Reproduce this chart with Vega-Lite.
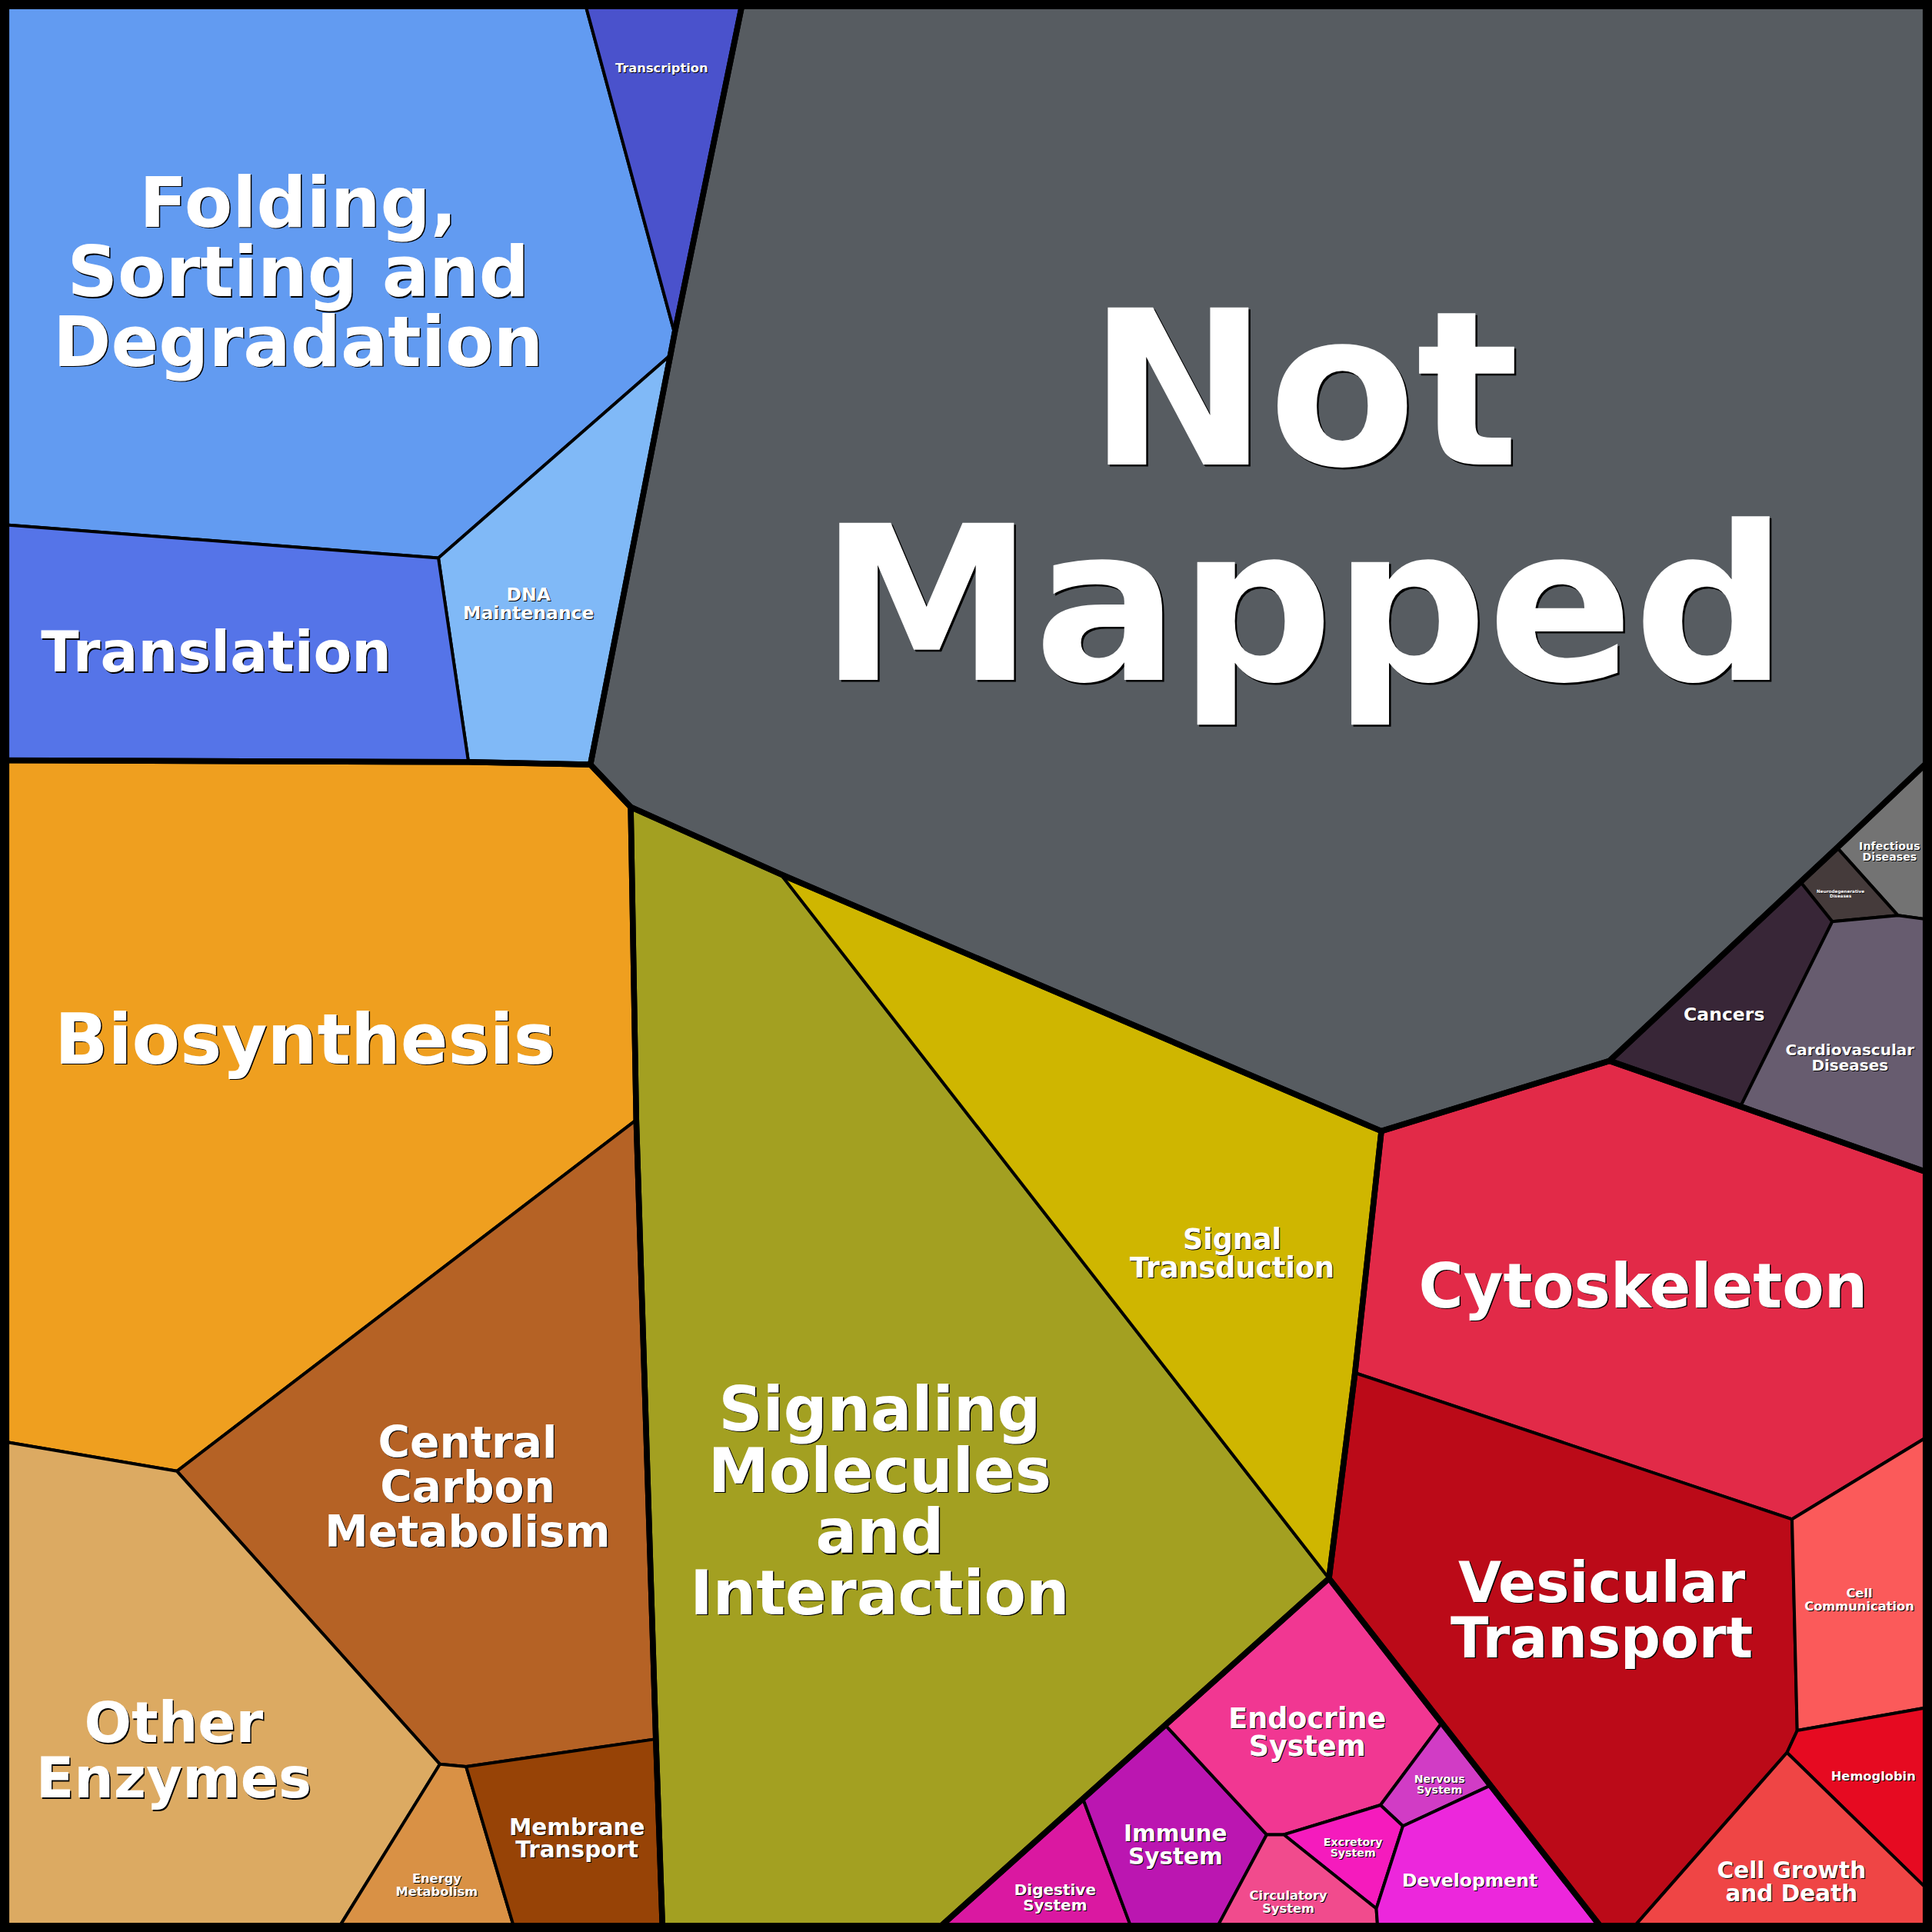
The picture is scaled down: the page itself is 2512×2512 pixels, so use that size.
{
  "$schema": "https://vega.github.io/schema/vega-lite/v6.json",
  "width": 2512,
  "height": 2512,
  "autosize": {"type": "fit", "contains": "padding"},
  "padding": 0,
  "background": "#000000",
  "config": {
    "view": {"stroke": null},
    "text": {"font": "DejaVu Sans", "fontWeight": "bold", "align": "center", "baseline": "alphabetic", "lineBreak": "\n"}
  },
  "datasets": {
    "cells": [
      {"c": "Folding, Sorting and Degradation", "i": 0, "x": 5.2, "y": 5.2},
      {"c": "Folding, Sorting and Degradation", "i": 1, "x": 475.5, "y": 5.2},
      {"c": "Folding, Sorting and Degradation", "i": 2, "x": 547.5, "y": 270.4},
      {"c": "Folding, Sorting and Degradation", "i": 3, "x": 544.1, "y": 288.2},
      {"c": "Folding, Sorting and Degradation", "i": 4, "x": 355.8, "y": 452.9},
      {"c": "Folding, Sorting and Degradation", "i": 5, "x": 5.2, "y": 426},

      {"c": "Transcription", "i": 0, "x": 475.5, "y": 5.2},
      {"c": "Transcription", "i": 1, "x": 602, "y": 5.2},
      {"c": "Transcription", "i": 2, "x": 547.5, "y": 270.4},

      {"c": "DNA Maintenance", "i": 0, "x": 544.1, "y": 288.2},
      {"c": "DNA Maintenance", "i": 1, "x": 479.2, "y": 620.5},
      {"c": "DNA Maintenance", "i": 2, "x": 380.2, "y": 618.5},
      {"c": "DNA Maintenance", "i": 3, "x": 355.8, "y": 452.9},

      {"c": "Translation", "i": 0, "x": 5.2, "y": 426},
      {"c": "Translation", "i": 1, "x": 355.8, "y": 452.9},
      {"c": "Translation", "i": 2, "x": 380.2, "y": 618.5},
      {"c": "Translation", "i": 3, "x": 5.2, "y": 617},

      {"c": "Not Mapped", "i": 0, "x": 602, "y": 5.2},
      {"c": "Not Mapped", "i": 1, "x": 1562.8, "y": 5.2},
      {"c": "Not Mapped", "i": 2, "x": 1562.8, "y": 620},
      {"c": "Not Mapped", "i": 3, "x": 1491, "y": 688},
      {"c": "Not Mapped", "i": 4, "x": 1461.3, "y": 715.8},
      {"c": "Not Mapped", "i": 5, "x": 1306.3, "y": 861},
      {"c": "Not Mapped", "i": 6, "x": 1121.1, "y": 918},
      {"c": "Not Mapped", "i": 7, "x": 633.6, "y": 709.5},
      {"c": "Not Mapped", "i": 8, "x": 511.9, "y": 655},
      {"c": "Not Mapped", "i": 9, "x": 479.2, "y": 620.5},
      {"c": "Not Mapped", "i": 10, "x": 544.1, "y": 288.2},
      {"c": "Not Mapped", "i": 11, "x": 547.5, "y": 270.4},

      {"c": "Infectious Diseases", "i": 0, "x": 1562.8, "y": 620},
      {"c": "Infectious Diseases", "i": 1, "x": 1562.8, "y": 746},
      {"c": "Infectious Diseases", "i": 2, "x": 1540.4, "y": 743},
      {"c": "Infectious Diseases", "i": 3, "x": 1491, "y": 688},

      {"c": "Neurodegenerative Diseases", "i": 0, "x": 1491, "y": 688},
      {"c": "Neurodegenerative Diseases", "i": 1, "x": 1540.4, "y": 743},
      {"c": "Neurodegenerative Diseases", "i": 2, "x": 1487, "y": 748},
      {"c": "Neurodegenerative Diseases", "i": 3, "x": 1461.3, "y": 715.8},

      {"c": "Cancers", "i": 0, "x": 1461.3, "y": 715.8},
      {"c": "Cancers", "i": 1, "x": 1487, "y": 748},
      {"c": "Cancers", "i": 2, "x": 1412.6, "y": 898},
      {"c": "Cancers", "i": 3, "x": 1306.3, "y": 861},

      {"c": "Cardiovascular Diseases", "i": 0, "x": 1487, "y": 748},
      {"c": "Cardiovascular Diseases", "i": 1, "x": 1540.4, "y": 743},
      {"c": "Cardiovascular Diseases", "i": 2, "x": 1562.8, "y": 746},
      {"c": "Cardiovascular Diseases", "i": 3, "x": 1562.8, "y": 951},
      {"c": "Cardiovascular Diseases", "i": 4, "x": 1412.6, "y": 898},

      {"c": "Cytoskeleton", "i": 0, "x": 1121.1, "y": 918},
      {"c": "Cytoskeleton", "i": 1, "x": 1306.3, "y": 861},
      {"c": "Cytoskeleton", "i": 2, "x": 1412.6, "y": 898},
      {"c": "Cytoskeleton", "i": 3, "x": 1562.8, "y": 951},
      {"c": "Cytoskeleton", "i": 4, "x": 1562.8, "y": 1167},
      {"c": "Cytoskeleton", "i": 5, "x": 1454.4, "y": 1233},
      {"c": "Cytoskeleton", "i": 6, "x": 1099.7, "y": 1114.2},

      {"c": "Vesicular Transport", "i": 0, "x": 1099.7, "y": 1114.2},
      {"c": "Vesicular Transport", "i": 1, "x": 1454.4, "y": 1233},
      {"c": "Vesicular Transport", "i": 2, "x": 1458.6, "y": 1404.5},
      {"c": "Vesicular Transport", "i": 3, "x": 1450.3, "y": 1422.4},
      {"c": "Vesicular Transport", "i": 4, "x": 1327, "y": 1562.8},
      {"c": "Vesicular Transport", "i": 5, "x": 1298.4, "y": 1562.8},
      {"c": "Vesicular Transport", "i": 6, "x": 1078.6, "y": 1281},

      {"c": "Cell Communication", "i": 0, "x": 1454.4, "y": 1233},
      {"c": "Cell Communication", "i": 1, "x": 1562.8, "y": 1167},
      {"c": "Cell Communication", "i": 2, "x": 1562.8, "y": 1386},
      {"c": "Cell Communication", "i": 3, "x": 1458.6, "y": 1404.5},

      {"c": "Hemoglobin", "i": 0, "x": 1458.6, "y": 1404.5},
      {"c": "Hemoglobin", "i": 1, "x": 1562.8, "y": 1386},
      {"c": "Hemoglobin", "i": 2, "x": 1562.8, "y": 1532},
      {"c": "Hemoglobin", "i": 3, "x": 1450.3, "y": 1422.4},

      {"c": "Cell Growth and Death", "i": 0, "x": 1450.3, "y": 1422.4},
      {"c": "Cell Growth and Death", "i": 1, "x": 1562.8, "y": 1532},
      {"c": "Cell Growth and Death", "i": 2, "x": 1562.8, "y": 1562.8},
      {"c": "Cell Growth and Death", "i": 3, "x": 1327, "y": 1562.8},

      {"c": "Signaling Molecules and Interaction", "i": 0, "x": 511.9, "y": 655},
      {"c": "Signaling Molecules and Interaction", "i": 1, "x": 633.6, "y": 709.5},
      {"c": "Signaling Molecules and Interaction", "i": 2, "x": 1078.6, "y": 1281},
      {"c": "Signaling Molecules and Interaction", "i": 3, "x": 764, "y": 1562.8},
      {"c": "Signaling Molecules and Interaction", "i": 4, "x": 537.6, "y": 1562.8},
      {"c": "Signaling Molecules and Interaction", "i": 5, "x": 532.3, "y": 1411.4},
      {"c": "Signaling Molecules and Interaction", "i": 6, "x": 516.4, "y": 908.9},

      {"c": "Signal Transduction", "i": 0, "x": 633.6, "y": 709.5},
      {"c": "Signal Transduction", "i": 1, "x": 1121.1, "y": 918},
      {"c": "Signal Transduction", "i": 2, "x": 1099.7, "y": 1114.2},
      {"c": "Signal Transduction", "i": 3, "x": 1078.6, "y": 1281},

      {"c": "Digestive System", "i": 0, "x": 764, "y": 1562.8},
      {"c": "Digestive System", "i": 1, "x": 879, "y": 1460},
      {"c": "Digestive System", "i": 2, "x": 917.5, "y": 1562.8},

      {"c": "Immune System", "i": 0, "x": 879, "y": 1460},
      {"c": "Immune System", "i": 1, "x": 945.7, "y": 1400},
      {"c": "Immune System", "i": 2, "x": 1028, "y": 1489},
      {"c": "Immune System", "i": 3, "x": 988.5, "y": 1562.8},
      {"c": "Immune System", "i": 4, "x": 917.5, "y": 1562.8},

      {"c": "Endocrine System", "i": 0, "x": 945.7, "y": 1400},
      {"c": "Endocrine System", "i": 1, "x": 1078.6, "y": 1281},
      {"c": "Endocrine System", "i": 2, "x": 1170, "y": 1398.5},
      {"c": "Endocrine System", "i": 3, "x": 1120.4, "y": 1465},
      {"c": "Endocrine System", "i": 4, "x": 1042, "y": 1489},
      {"c": "Endocrine System", "i": 5, "x": 1028, "y": 1489},

      {"c": "Nervous System", "i": 0, "x": 1170, "y": 1398.5},
      {"c": "Nervous System", "i": 1, "x": 1209.7, "y": 1449},
      {"c": "Nervous System", "i": 2, "x": 1138.6, "y": 1482},
      {"c": "Nervous System", "i": 3, "x": 1120.4, "y": 1465},

      {"c": "Excretory System", "i": 0, "x": 1042, "y": 1489},
      {"c": "Excretory System", "i": 1, "x": 1120.4, "y": 1465},
      {"c": "Excretory System", "i": 2, "x": 1138.6, "y": 1482},
      {"c": "Excretory System", "i": 3, "x": 1117, "y": 1549},

      {"c": "Circulatory System", "i": 0, "x": 1028, "y": 1489},
      {"c": "Circulatory System", "i": 1, "x": 1042, "y": 1489},
      {"c": "Circulatory System", "i": 2, "x": 1117, "y": 1549},
      {"c": "Circulatory System", "i": 3, "x": 1118, "y": 1562.8},
      {"c": "Circulatory System", "i": 4, "x": 988.5, "y": 1562.8},

      {"c": "Development", "i": 0, "x": 1138.6, "y": 1482},
      {"c": "Development", "i": 1, "x": 1209.7, "y": 1449},
      {"c": "Development", "i": 2, "x": 1298.4, "y": 1562.8},
      {"c": "Development", "i": 3, "x": 1118, "y": 1562.8},
      {"c": "Development", "i": 4, "x": 1117, "y": 1549},

      {"c": "Biosynthesis", "i": 0, "x": 5.2, "y": 617},
      {"c": "Biosynthesis", "i": 1, "x": 380.2, "y": 618.5},
      {"c": "Biosynthesis", "i": 2, "x": 479.2, "y": 620.5},
      {"c": "Biosynthesis", "i": 3, "x": 511.9, "y": 655},
      {"c": "Biosynthesis", "i": 4, "x": 516.4, "y": 908.9},
      {"c": "Biosynthesis", "i": 5, "x": 143.6, "y": 1194},
      {"c": "Biosynthesis", "i": 6, "x": 5.2, "y": 1170.4},

      {"c": "Central Carbon Metabolism", "i": 0, "x": 516.4, "y": 908.9},
      {"c": "Central Carbon Metabolism", "i": 1, "x": 532.3, "y": 1411.4},
      {"c": "Central Carbon Metabolism", "i": 2, "x": 378.3, "y": 1433.8},
      {"c": "Central Carbon Metabolism", "i": 3, "x": 357, "y": 1431.8},
      {"c": "Central Carbon Metabolism", "i": 4, "x": 143.6, "y": 1194},

      {"c": "Other Enzymes", "i": 0, "x": 5.2, "y": 1170.4},
      {"c": "Other Enzymes", "i": 1, "x": 143.6, "y": 1194},
      {"c": "Other Enzymes", "i": 2, "x": 357, "y": 1431.8},
      {"c": "Other Enzymes", "i": 3, "x": 276, "y": 1562.8},
      {"c": "Other Enzymes", "i": 4, "x": 5.2, "y": 1562.8},

      {"c": "Energy Metabolism", "i": 0, "x": 357, "y": 1431.8},
      {"c": "Energy Metabolism", "i": 1, "x": 378.3, "y": 1433.8},
      {"c": "Energy Metabolism", "i": 2, "x": 416.7, "y": 1562.8},
      {"c": "Energy Metabolism", "i": 3, "x": 276, "y": 1562.8},

      {"c": "Membrane Transport", "i": 0, "x": 378.3, "y": 1433.8},
      {"c": "Membrane Transport", "i": 1, "x": 532.3, "y": 1411.4},
      {"c": "Membrane Transport", "i": 2, "x": 537.6, "y": 1562.8},
      {"c": "Membrane Transport", "i": 3, "x": 416.7, "y": 1562.8}
    ],
    "groups": [
      {"g": "Genetic Information Processing", "i": 0, "x": 5.2, "y": 5.2},
      {"g": "Genetic Information Processing", "i": 1, "x": 602, "y": 5.2},
      {"g": "Genetic Information Processing", "i": 2, "x": 547.5, "y": 270.4},
      {"g": "Genetic Information Processing", "i": 3, "x": 544.1, "y": 288.2},
      {"g": "Genetic Information Processing", "i": 4, "x": 479.2, "y": 620.5},
      {"g": "Genetic Information Processing", "i": 5, "x": 380.2, "y": 618.5},
      {"g": "Genetic Information Processing", "i": 6, "x": 5.2, "y": 617},

      {"g": "Not Mapped", "i": 0, "x": 602, "y": 5.2},
      {"g": "Not Mapped", "i": 1, "x": 1562.8, "y": 5.2},
      {"g": "Not Mapped", "i": 2, "x": 1562.8, "y": 620},
      {"g": "Not Mapped", "i": 3, "x": 1491, "y": 688},
      {"g": "Not Mapped", "i": 4, "x": 1461.3, "y": 715.8},
      {"g": "Not Mapped", "i": 5, "x": 1306.3, "y": 861},
      {"g": "Not Mapped", "i": 6, "x": 1121.1, "y": 918},
      {"g": "Not Mapped", "i": 7, "x": 633.6, "y": 709.5},
      {"g": "Not Mapped", "i": 8, "x": 511.9, "y": 655},
      {"g": "Not Mapped", "i": 9, "x": 479.2, "y": 620.5},
      {"g": "Not Mapped", "i": 10, "x": 544.1, "y": 288.2},
      {"g": "Not Mapped", "i": 11, "x": 547.5, "y": 270.4},

      {"g": "Human Diseases", "i": 0, "x": 1562.8, "y": 620},
      {"g": "Human Diseases", "i": 1, "x": 1562.8, "y": 951},
      {"g": "Human Diseases", "i": 2, "x": 1412.6, "y": 898},
      {"g": "Human Diseases", "i": 3, "x": 1306.3, "y": 861},
      {"g": "Human Diseases", "i": 4, "x": 1461.3, "y": 715.8},
      {"g": "Human Diseases", "i": 5, "x": 1491, "y": 688},

      {"g": "Cellular Processes", "i": 0, "x": 1121.1, "y": 918},
      {"g": "Cellular Processes", "i": 1, "x": 1306.3, "y": 861},
      {"g": "Cellular Processes", "i": 2, "x": 1412.6, "y": 898},
      {"g": "Cellular Processes", "i": 3, "x": 1562.8, "y": 951},
      {"g": "Cellular Processes", "i": 4, "x": 1562.8, "y": 1562.8},
      {"g": "Cellular Processes", "i": 5, "x": 1298.4, "y": 1562.8},
      {"g": "Cellular Processes", "i": 6, "x": 1078.6, "y": 1281},
      {"g": "Cellular Processes", "i": 7, "x": 1099.7, "y": 1114.2},

      {"g": "Environmental Information Processing", "i": 0, "x": 511.9, "y": 655},
      {"g": "Environmental Information Processing", "i": 1, "x": 633.6, "y": 709.5},
      {"g": "Environmental Information Processing", "i": 2, "x": 1121.1, "y": 918},
      {"g": "Environmental Information Processing", "i": 3, "x": 1099.7, "y": 1114.2},
      {"g": "Environmental Information Processing", "i": 4, "x": 1078.6, "y": 1281},
      {"g": "Environmental Information Processing", "i": 5, "x": 764, "y": 1562.8},
      {"g": "Environmental Information Processing", "i": 6, "x": 537.6, "y": 1562.8},
      {"g": "Environmental Information Processing", "i": 7, "x": 532.3, "y": 1411.4},
      {"g": "Environmental Information Processing", "i": 8, "x": 516.4, "y": 908.9},

      {"g": "Organismal Systems", "i": 0, "x": 1078.6, "y": 1281},
      {"g": "Organismal Systems", "i": 1, "x": 1298.4, "y": 1562.8},
      {"g": "Organismal Systems", "i": 2, "x": 764, "y": 1562.8},

      {"g": "Metabolism", "i": 0, "x": 5.2, "y": 617},
      {"g": "Metabolism", "i": 1, "x": 380.2, "y": 618.5},
      {"g": "Metabolism", "i": 2, "x": 479.2, "y": 620.5},
      {"g": "Metabolism", "i": 3, "x": 511.9, "y": 655},
      {"g": "Metabolism", "i": 4, "x": 516.4, "y": 908.9},
      {"g": "Metabolism", "i": 5, "x": 532.3, "y": 1411.4},
      {"g": "Metabolism", "i": 6, "x": 537.6, "y": 1562.8},
      {"g": "Metabolism", "i": 7, "x": 5.2, "y": 1562.8}
    ],
    "labels": [
      {"name": "Not Mapped", "text": "Not\nMapped", "x": 1058, "y": 377},
      {"name": "Folding, Sorting and Degradation", "text": "Folding,\nSorting and\nDegradation", "x": 242, "y": 184},
      {"name": "Transcription", "text": "Transcription", "x": 537, "y": 58.9},
      {"name": "Translation", "text": "Translation", "x": 175.5, "y": 545},
      {"name": "DNA Maintenance", "text": "DNA\nMaintenance", "x": 429, "y": 487.8},
      {"name": "Biosynthesis", "text": "Biosynthesis", "x": 247.5, "y": 863},
      {"name": "Central Carbon Metabolism", "text": "Central\nCarbon\nMetabolism", "x": 379.5, "y": 1183},
      {"name": "Other Enzymes", "text": "Other\nEnzymes", "x": 141, "y": 1414},
      {"name": "Energy Metabolism", "text": "Energy\nMetabolism", "x": 354.5, "y": 1528.2},
      {"name": "Membrane Transport", "text": "Membrane\nTransport", "x": 468.3, "y": 1489.2},
      {"name": "Signaling Molecules and Interaction", "text": "Signaling\nMolecules\nand\nInteraction", "x": 714, "y": 1161},
      {"name": "Signal Transduction", "text": "Signal\nTransduction", "x": 1000, "y": 1014},
      {"name": "Cytoskeleton", "text": "Cytoskeleton", "x": 1333.5, "y": 1061},
      {"name": "Vesicular Transport", "text": "Vesicular\nTransport", "x": 1300, "y": 1300.2},
      {"name": "Cell Communication", "text": "Cell\nCommunication", "x": 1509, "y": 1296.6},
      {"name": "Hemoglobin", "text": "Hemoglobin", "x": 1520.4, "y": 1445},
      {"name": "Cell Growth and Death", "text": "Cell Growth\nand Death", "x": 1454, "y": 1524.5},
      {"name": "Endocrine System", "text": "Endocrine\nSystem", "x": 1061, "y": 1402.4},
      {"name": "Immune System", "text": "Immune\nSystem", "x": 954, "y": 1494.4},
      {"name": "Digestive System", "text": "Digestive\nSystem", "x": 856.3, "y": 1538.1},
      {"name": "Circulatory System", "text": "Circulatory\nSystem", "x": 1045.6, "y": 1541.8},
      {"name": "Excretory System", "text": "Excretory\nSystem", "x": 1098.1, "y": 1498.1},
      {"name": "Nervous System", "text": "Nervous\nSystem", "x": 1168.3, "y": 1447},
      {"name": "Development", "text": "Development", "x": 1192.9, "y": 1531.2},
      {"name": "Cancers", "text": "Cancers", "x": 1399.3, "y": 828.3},
      {"name": "Cardiovascular Diseases", "text": "Cardiovascular\nDiseases", "x": 1501.4, "y": 856.2},
      {"name": "Infectious Diseases", "text": "Infectious\nDiseases", "x": 1533.6, "y": 689.9},
      {"name": "Neurodegenerative Diseases", "text": "Neurodegenerative\nDiseases", "x": 1493.8, "y": 725}
    ]
  },
  "encoding": {
    "x": {"field": "x", "type": "quantitative", "scale": {"domain": [0, 1568], "nice": false, "zero": false}, "axis": null},
    "y": {"field": "y", "type": "quantitative", "scale": {"domain": [0, 1568], "nice": false, "zero": false, "reverse": true}, "axis": null}
  },
  "layer": [
    {
      "data": {"name": "cells"},
      "mark": {"type": "line", "interpolate": "linear-closed", "stroke": "#000000", "strokeWidth": 4, "strokeJoin": "round"},
      "encoding": {
        "order": {"field": "i", "type": "quantitative"},
        "detail": {"field": "c", "type": "nominal"},
        "fill": {
          "field": "c",
          "type": "nominal",
          "legend": null,
          "scale": {
            "domain": [
              "Folding, Sorting and Degradation", "Transcription", "DNA Maintenance", "Translation", "Not Mapped",
              "Infectious Diseases", "Neurodegenerative Diseases", "Cancers", "Cardiovascular Diseases",
              "Cytoskeleton", "Vesicular Transport", "Cell Communication", "Hemoglobin", "Cell Growth and Death",
              "Signaling Molecules and Interaction", "Signal Transduction",
              "Digestive System", "Immune System", "Endocrine System", "Nervous System", "Excretory System", "Circulatory System", "Development",
              "Biosynthesis", "Central Carbon Metabolism", "Other Enzymes", "Energy Metabolism", "Membrane Transport"
            ],
            "range": [
              "#629bf1", "#4a52cc", "#80b9f7", "#5574e8", "#575c61",
              "#737373", "#453b3b", "#382637", "#675c6f",
              "#e22a48", "#bb0a18", "#fb5a5a", "#e60a21", "#ef4545",
              "#a3a021", "#cfb600",
              "#da18a1", "#bb16b1", "#f13792", "#d13cc5", "#f51bbd", "#f14b8d", "#ec27dc",
              "#ef9f1f", "#b56225", "#dcaa62", "#d99145", "#974306"
            ]
          }
        }
      }
    },
    {
      "data": {"name": "groups"},
      "mark": {"type": "line", "interpolate": "linear-closed", "stroke": "#000000", "strokeWidth": 7.5, "strokeJoin": "round", "fill": null},
      "encoding": {
        "order": {"field": "i", "type": "quantitative"},
        "detail": {"field": "g", "type": "nominal"}
      }
    },
    {
      "data": {"name": "labels"},
      "encoding": {"text": {"field": "text", "type": "nominal"}},
      "layer": [
        {"transform": [{"filter": {"field": "name", "oneOf": ["Not Mapped"]}}],
         "layer": [
           {"mark": {"type": "text", "fontSize": 280, "lineHeight": 280, "color": "#000000", "dx": 2.5, "dy": 2.5}},
           {"mark": {"type": "text", "fontSize": 280, "lineHeight": 280, "color": "#ffffff"}}
         ]},
        {"transform": [{"filter": {"field": "name", "oneOf": ["Folding, Sorting and Degradation", "Biosynthesis"]}}],
         "layer": [
           {"mark": {"type": "text", "fontSize": 91, "lineHeight": 90.5, "color": "#000000", "dx": 1.5, "dy": 1.5}},
           {"mark": {"type": "text", "fontSize": 91, "lineHeight": 90.5, "color": "#ffffff"}}
         ]},
        {"transform": [{"filter": {"field": "name", "oneOf": ["Signaling Molecules and Interaction", "Cytoskeleton"]}}],
         "layer": [
           {"mark": {"type": "text", "fontSize": 79.3, "lineHeight": 79.6, "color": "#000000", "dx": 1.5, "dy": 1.5}},
           {"mark": {"type": "text", "fontSize": 79.3, "lineHeight": 79.6, "color": "#ffffff"}}
         ]},
        {"transform": [{"filter": {"field": "name", "oneOf": ["Translation", "Vesicular Transport", "Other Enzymes"]}}],
         "layer": [
           {"mark": {"type": "text", "fontSize": 72.5, "lineHeight": 72, "color": "#000000", "dx": 1.5, "dy": 1.5}},
           {"mark": {"type": "text", "fontSize": 72.5, "lineHeight": 72, "color": "#ffffff"}}
         ]},
        {"transform": [{"filter": {"field": "name", "oneOf": ["Central Carbon Metabolism"]}}],
         "layer": [
           {"mark": {"type": "text", "fontSize": 56.7, "lineHeight": 57.7, "color": "#000000", "dx": 1.2, "dy": 1.2}},
           {"mark": {"type": "text", "fontSize": 56.7, "lineHeight": 57.7, "color": "#ffffff"}}
         ]},
        {"transform": [{"filter": {"field": "name", "oneOf": ["Signal Transduction", "Endocrine System"]}}],
         "layer": [
           {"mark": {"type": "text", "fontSize": 36.5, "lineHeight": 36.8, "color": "#000000", "dx": 1, "dy": 1}},
           {"mark": {"type": "text", "fontSize": 36.5, "lineHeight": 36.8, "color": "#ffffff"}}
         ]},
        {"transform": [{"filter": {"field": "name", "oneOf": ["Immune System", "Membrane Transport", "Cell Growth and Death"]}}],
         "layer": [
           {"mark": {"type": "text", "fontSize": 29.5, "lineHeight": 29.5, "color": "#000000", "dx": 1, "dy": 1}},
           {"mark": {"type": "text", "fontSize": 29.5, "lineHeight": 29.5, "color": "#ffffff"}}
         ]},
        {"transform": [{"filter": {"field": "name", "oneOf": ["DNA Maintenance", "Cancers", "Development"]}}],
         "layer": [
           {"mark": {"type": "text", "fontSize": 23.5, "lineHeight": 23.4, "color": "#000000", "dx": 1, "dy": 1}},
           {"mark": {"type": "text", "fontSize": 23.5, "lineHeight": 23.4, "color": "#ffffff"}}
         ]},
        {"transform": [{"filter": {"field": "name", "oneOf": ["Digestive System", "Cardiovascular Diseases"]}}],
         "layer": [
           {"mark": {"type": "text", "fontSize": 20, "lineHeight": 20, "color": "#000000", "dx": 1, "dy": 1}},
           {"mark": {"type": "text", "fontSize": 20, "lineHeight": 20, "color": "#ffffff"}}
         ]},
        {"transform": [{"filter": {"field": "name", "oneOf": ["Energy Metabolism", "Hemoglobin", "Circulatory System", "Transcription", "Cell Communication"]}}],
         "layer": [
           {"mark": {"type": "text", "fontSize": 16.3, "lineHeight": 16.5, "color": "#000000", "dx": 1, "dy": 1}},
           {"mark": {"type": "text", "fontSize": 16.3, "lineHeight": 16.5, "color": "#ffffff"}}
         ]},
        {"transform": [{"filter": {"field": "name", "oneOf": ["Excretory System", "Nervous System", "Infectious Diseases"]}}],
         "layer": [
           {"mark": {"type": "text", "fontSize": 14.2, "lineHeight": 14, "color": "#000000", "dx": 1, "dy": 1}},
           {"mark": {"type": "text", "fontSize": 14.2, "lineHeight": 14, "color": "#ffffff"}}
         ]},
        {"transform": [{"filter": {"field": "name", "oneOf": ["Neurodegenerative Diseases"]}}],
         "layer": [
           {"mark": {"type": "text", "fontSize": 5.7, "lineHeight": 5.3, "color": "#000000", "dx": 0.5, "dy": 0.5}},
           {"mark": {"type": "text", "fontSize": 5.7, "lineHeight": 5.3, "color": "#ffffff"}}
         ]}
      ]
    }
  ]
}
